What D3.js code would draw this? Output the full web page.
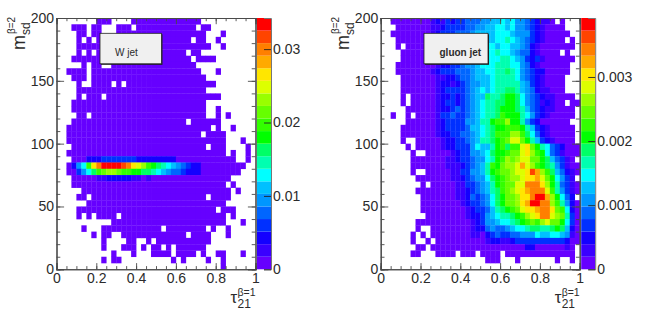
<!DOCTYPE html>
<html>
<head>
<meta charset="utf-8">
<script src="https://cdn.jsdelivr.net/npm/d3@7"></script>
<style>
  html, body { margin: 0; padding: 0; background: #fff; }
  text { font-family: "Liberation Sans", sans-serif; fill: #2b2b2b; }
</style>
</head>
<body>
<svg id="chart" width="648" height="313"></svg>
<script>
{
  // colour level per bin, one string per row from m=200 down to m=0, one char
  // per tau bin from 0 to 1 ('.' is an empty bin, 0-9a-j are the 20 contours)
  const wJetLevels = [
    '........000....00000000000000',
    '...000.00...000.000000000000.00',
    '....00.00...000000000000000000...0',
    '....0.0.0000000000000000000.00..0',
    '....000000000000000000000000000..0',
    '....0.0.000000000000000000.00',
    '...000000000000000000000000.0000',
    '.....0.00..00000000000000000',
    '..0000.0000000000000000000000...0',
    '...000.00000000000000000000000',
    '....0..0000.0.000000000000000000',
    '....00000000000000000000000000',
    '....0.000.00000000000000000000000',
    '...000000000000000000000000000',
    '...000000000000000000000000000..0',
    '....00.00000000000000000000000..0.0',
    '...00000000000000000000000.000000',
    '..00000000000000000000000000000.0..0',
    '..000000000000000000000000000.0000',
    '..00000000000000000000000000000000...0',
    '...000000000000000000000000000.000....0',
    '..00000000000000000000000000000000.0..0',
    '...000222333333322222222000000000000..0',
    '..0257bfhjjjjihfedba987654322000000000',
    '..003579bcddcbbaa99876544322200000000',
    '...00000112222211010000000000000000',
    '...0000000000000000000000000000000.0',
    '.....000000000000000000000000000000.0',
    '....00.00000000000000000000000.0000',
    '......0000000000000000000000000000',
    '....0000000000000000000000000000.000',
    '....0.0.0000.000000000000000000000.0',
    '...........00000000000000000000000...0',
    '.....0...000000000000.00000000.0..0',
    '.......0.00..0000000000000.0000...0',
    '.........0....00..0.00000000000',
    '.........0...000.0.00.0.000000',
    '...........0...0...0000.0000.0..00...0',
    '.........0.00..........0.0....0..0',
    '.................................0'
  ];

  const gluonJetLevels = [
    '..00000000121323344455667675543211' + '0.0',
    '...0000000112333344556677675543210' + '000',
    '..00000000123334445666677765553210' + '0000',
    '...0000000122333445566677876543210' + '000.0',
    '...0.00000012333445667767766542100' + '00000',
    '....000000012233445677787765442100' + '00.0',
    '....000000012234445567778876532310' + '00000',
    '...0000000012233455677788877542100' + '0000',
    '...0000000123334445667788987543220' + '0000',
    '....000000011223445666788887543210' + '000',
    '....000000012212345566788888653210' + '000',
    '....000000012333345676788998654211' + '000',
    '....0.0000012232345669889aa9754321' + '10000',
    '....0.0000012332345678899aa9754312' + '100.00',
    '.....0000001223434567889aaa9864321' + '10000',
    '..0..0.00001334334567889baaa875321' + '00000',
    '.....0000001233335568 8abbdaa85320'.replace(' ', '') + '00000',
    '....0000000123333466789aabbba86321' + '00000',
    '....0000000122334456789bbbddb97421' + '00000',
    '....0..00000122334568 89abceeca8632'.replace(' ', '') + '10000',
    '.....0.000001223335766' + '8ab9bbefca87' + '432000',
    '......0..0000012335567' + '9aabccefdba7' + '431000',
    '......0000000112334557' + '8abdcdeecca9' + '64310.',
    '......0000000111234568' + 'bacddegedba9' + '853100',
    '......0..0000011335568' + 'abccdeefigdb' + '964210',
    '.......000000011234557' + '9abcddeffgec' + 'a7531.',
    '........0.000001133456' + '8abcceehhhfd' + 'a84310',
    '.......000000001123456' + '89bcdefghhhe' + 'b85310',
    '........00000001124345' + '79accdffhjjg' + 'da742.',
    '........00000000123345' + '79accdfgjjhh' + 'db8520',
    '........00000000012334' + '689abceffghh' + 'fcb720',
    '.........0000000012235' + '67889abdefhh' + 'edc830',
    '.......000000000001235' + '567789abcbde' + 'cca730',
    '.......0..000000001224' + '544567789988' + '9a9620',
    '......0.0.000000001102' + '343344555766' + '776510',
    '......0..0.00000000001' + '221123333333' + '333200',
    '.......00.000000000000' + '000000022000' + '00010.',
    '......00...0000.000.0000.00000000000000.',
    '.....................000...0.......0..0',
    ''
  ];

  const palette = [
    '#6600ff', '#3a00ff', '#1400ff', '#0030ff', '#0066ff',
    '#0096ff', '#00c0ff', '#00ffff', '#00ffb0', '#00ff66',
    '#00ff00', '#33ff00', '#66ff00', '#99ff00', '#ddff00',
    '#ffe600', '#ffaa00', '#ff7f00', '#ff4400', '#ff0000'
  ];

  const xMajorTicks = [0, 0.2, 0.4, 0.6, 0.8, 1];
  const xMinorTicks = d3.range(0, 21).map((d) => d * 0.05);
  const yMajorTicks = [0, 50, 100, 150, 200];
  const yMinorTicks = d3.range(0, 21).map((d) => d * 10);
  const wJetColourTicks = [0, 0.01, 0.02, 0.03];
  const gluonColourTicks = [0, 0.001, 0.002, 0.003];

  const AXIS_COLOUR = '#4a4a4a';
  const BINS = 40;

  const svg = d3.select('#chart');

  drawPanel({
    left: 56.5, label: 'W jet', bold: false, levels: wJetLevels,
    zMax: 0.03424, colourTicks: wJetColourTicks,
    box: {x: 100, width: 61.5, textX: 115, size: 10}
  });

  drawPanel({
    left: 380.7, label: 'gluon jet', bold: true, levels: gluonJetLevels,
    zMax: 0.00392, colourTicks: gluonColourTicks,
    box: {x: 424, width: 64, textX: 439.5, size: 10}
  });

  function drawPanel({left, label, bold, levels, zMax, colourTicks, box}) {
    const width = 199;
    const top = 18;
    const bottom = 269.3;

    const x = d3.scaleLinear().domain([0, 1]).range([left, left + width]);
    const y = d3.scaleLinear().domain([0, 200]).range([bottom, top]);
    const colour = d3.scaleQuantize().domain([0, zMax]).range(palette);

    const g = svg.append('g');
    const cells = readCells(levels, zMax);
    const binW = 1 / BINS;
    const binH = 200 / BINS;

    // small overlap so the bin edges stay only faintly visible
    g.selectAll('rect.cell')
      .data(cells)
      .join('rect')
        .attr('class', 'cell')
        .attr('x', (d) => x(d.tau))
        .attr('y', (d) => y(d.mass + binH))
        .attr('width', x(binW) - x(0) + 0.3)
        .attr('height', y(0) - y(binH) + 0.3)
        .attr('fill', (d) => colour(d.value));

    drawAxes(g, x, y, top, bottom, left, width);
    drawColourBar(g, left + width + 1.5, colour, zMax, colourTicks, top, bottom);
    drawTitles(g, left, x);

    // label pave with its shadow
    g.append('rect')
      .attr('x', box.x + 1).attr('y', 34.3)
      .attr('width', box.width).attr('height', 30.5)
      .attr('fill', '#222');
    g.append('rect')
      .attr('x', box.x).attr('y', 33.3)
      .attr('width', box.width).attr('height', 30.5)
      .attr('fill', '#f0f0f0')
      .attr('stroke', '#222')
      .attr('stroke-width', 0.8);
    g.append('text')
      .attr('x', box.textX).attr('y', 56)
      .style('font-size', box.size + 'px')
      .style('font-weight', bold ? 'bold' : 'normal')
      .text(label);
  }

  function readCells(levels, zMax) {
    const cells = [];

    levels.forEach((row, r) => {
      row.split('').forEach((ch, c) => {
        if (ch === '.') return;

        cells.push({
          tau: c / BINS,
          mass: 200 - (r + 1) * 200 / BINS,
          value: (parseInt(ch, 36) + 0.5) * zMax / palette.length
        });
      });
    });

    return cells;
  }

  function drawAxes(g, x, y, top, bottom, left, width) {
    const plain = () => '';

    addAxis(d3.axisBottom(x).tickValues(xMinorTicks).tickSize(-3.2).tickFormat(plain), 0, bottom);
    addAxis(d3.axisTop(x).tickValues(xMinorTicks).tickSize(-3.2).tickFormat(plain), 0, top);
    addAxis(d3.axisTop(x).tickValues(xMajorTicks).tickSize(-6.2).tickFormat(plain), 0, top);
    addAxis(d3.axisLeft(y).tickValues(yMinorTicks).tickSize(-3.8).tickFormat(plain), left, 0);
    addAxis(d3.axisRight(y).tickValues(yMinorTicks).tickSize(-3.8).tickFormat(plain), left + width, 0);
    addAxis(d3.axisRight(y).tickValues(yMajorTicks).tickSize(-7.6).tickFormat(plain), left + width, 0);

    const xLabels = addAxis(d3.axisBottom(x).tickValues(xMajorTicks).tickSize(-6.2)
      .tickPadding(4).tickFormat(d3.format('~g')), 0, bottom);
    xLabels.selectAll('text').style('font-size', '14px');

    const yLabels = addAxis(d3.axisLeft(y).tickValues(yMajorTicks).tickSize(-7.6)
      .tickPadding(2.5).tickFormat(d3.format('d')), left, 0);
    yLabels.selectAll('text').style('font-size', '14px');

    function addAxis(axis, dx, dy) {
      const a = g.append('g')
        .attr('transform', `translate(${dx},${dy})`)
        .call(axis);

      a.select('.domain').attr('stroke', AXIS_COLOUR).attr('stroke-width', 1.1);
      a.selectAll('line').attr('stroke', AXIS_COLOUR).attr('stroke-width', 0.9);
      return a;
    }
  }

  function drawColourBar(g, left, colour, zMax, ticks, top, bottom) {
    const barWidth = 14;
    const z = d3.scaleLinear().domain([0, zMax]).range([bottom, top]);
    const step = zMax / palette.length;

    g.selectAll('rect.swatch')
      .data(palette)
      .join('rect')
        .attr('class', 'swatch')
        .attr('x', left)
        .attr('y', (d, i) => z((i + 1) * step))
        .attr('width', barWidth)
        .attr('height', z(0) - z(step))
        .attr('fill', (d) => d);

    const axis = g.append('g')
      .attr('transform', `translate(${left + barWidth},0)`)
      .call(d3.axisRight(z).tickValues(ticks).tickSize(-7).tickPadding(2)
        .tickFormat(d3.format('~g')));

    axis.select('.domain').attr('stroke', '#777').attr('stroke-width', 1);
    axis.selectAll('line').attr('stroke', '#222').attr('stroke-width', 0.9);
    axis.selectAll('text').style('font-size', '14px');
  }

  function drawTitles(g, left, x) {
    // y title runs upwards: m, subscript sd, superscript beta=2
    const yTitle = g.append('g')
      .attr('transform', `translate(${left - 31.5},50) rotate(-90)`);

    yTitle.append('text').attr('x', 0).attr('y', 0)
      .style('font-size', '18px').text('m');
    yTitle.append('text').attr('x', 15).attr('y', 4.5)
      .style('font-size', '12px').text('sd');
    yTitle.append('text').attr('x', 16).attr('y', -10)
      .style('font-size', '10px').text('\u03b2=2');

    const titleX = x(1) - 25;

    g.append('text').attr('x', titleX).attr('y', 303)
      .style('font-size', '17px').text('\u03c4');
    g.append('text').attr('x', titleX + 7).attr('y', 307.5)
      .style('font-size', '12px').text('21');
    g.append('text').attr('x', titleX + 7).attr('y', 296)
      .style('font-size', '10.5px').text('\u03b2=1');
  }
}
</script>
</body>
</html>
